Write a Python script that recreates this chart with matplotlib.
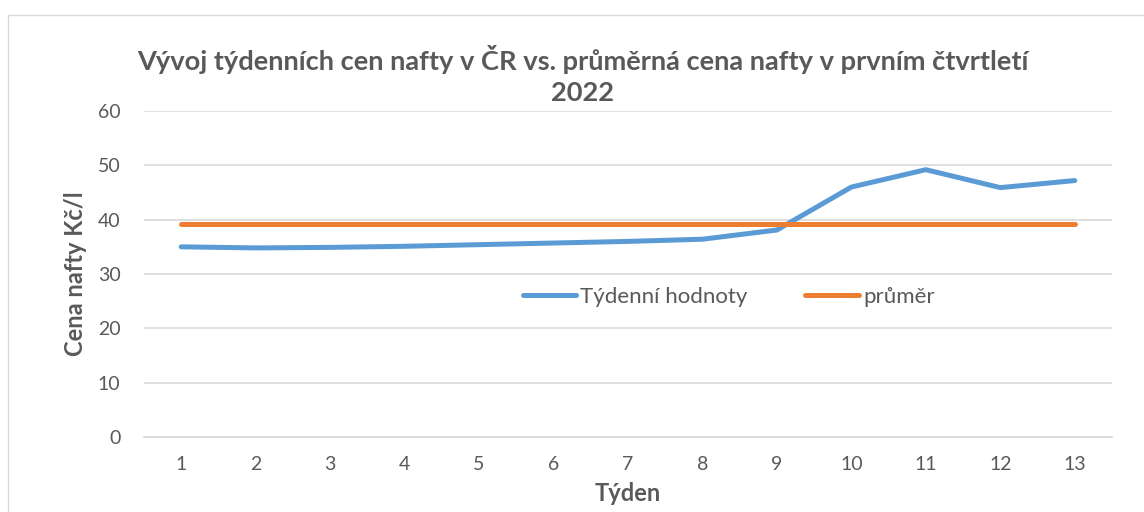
import matplotlib
matplotlib.use("Agg")
import matplotlib.pyplot as plt
from matplotlib.patches import Rectangle

weeks = [1, 2, 3, 4, 5, 6, 7, 8, 9, 10, 11, 12, 13]
weekly = [35.0, 34.8, 34.9, 35.1, 35.4, 35.7, 36.0, 36.4, 38.1, 46.0, 49.2, 45.9, 47.2]
average = [39.2] * 13
series_names = ["Týdenní hodnoty", "průměr"]
title = "Vývoj týdenních cen nafty v ČR vs. průměrná cena nafty v prvním čtvrtletí\n2022"
xlabel = "Týden"
ylabel = "Cena nafty Kč/l"
yticks = [0, 10, 20, 30, 40, 50, 60]

plt.rcParams['font.family'] = ['Lato', 'DejaVu Sans']
txt = '#595959'

fig = plt.figure(figsize=(11.44, 5.12), dpi=100)
fig.patches.append(Rectangle((8/1144, -0.1), 1.2, 1.1 - 15/512, transform=fig.transFigure,
                             fill=False, edgecolor='#D9D9D9', linewidth=1.0))
ax = fig.add_axes([144/1144, 75/512, (1112-144)/1144, (437-111)/512])

ax.plot(weeks, weekly, color='#5B9BD5', linewidth=3.6, solid_capstyle='round',
        solid_joinstyle='round', label=series_names[0], zorder=3)
ax.plot(weeks, average, color='#ED7D31', linewidth=3.6, solid_capstyle='round',
        label=series_names[1], zorder=3)

ax.set_xlim(0.5, 13.5)
ax.set_ylim(0, 60)
ax.set_yticks(yticks)
ax.set_xticks(weeks)
ax.grid(axis='y', color='#D9D9D9', linewidth=1.2)
ax.set_axisbelow(True)
for s in ['top', 'right', 'left']:
    ax.spines[s].set_visible(False)
ax.spines['bottom'].set_color('#D9D9D9')
ax.spines['bottom'].set_linewidth(1.2)
ax.tick_params(axis='both', length=0, labelsize=14, colors=txt)
ax.tick_params(axis='x', pad=14)
ax.tick_params(axis='y', pad=17)

ax.set_xlabel(xlabel, fontsize=17, fontweight='bold', color=txt, labelpad=6)
ax.set_ylabel(ylabel, fontsize=17, fontweight='bold', color=txt, labelpad=8)
fig.text(583/1144, 1 - 75/512, title, ha='center', va='center', fontsize=19.6,
         fontweight='bold', color=txt, linespacing=1.33)

leg = ax.legend(loc='center', bbox_to_anchor=(0.604, 0.43), ncol=2, frameon=False,
                fontsize=16, handlelength=2.4, handletextpad=0.2, columnspacing=2.6,
                labelcolor=txt, borderaxespad=0)
for l in leg.get_lines():
    l.set_linewidth(3.6)

fig.savefig('out.png', dpi=100)
